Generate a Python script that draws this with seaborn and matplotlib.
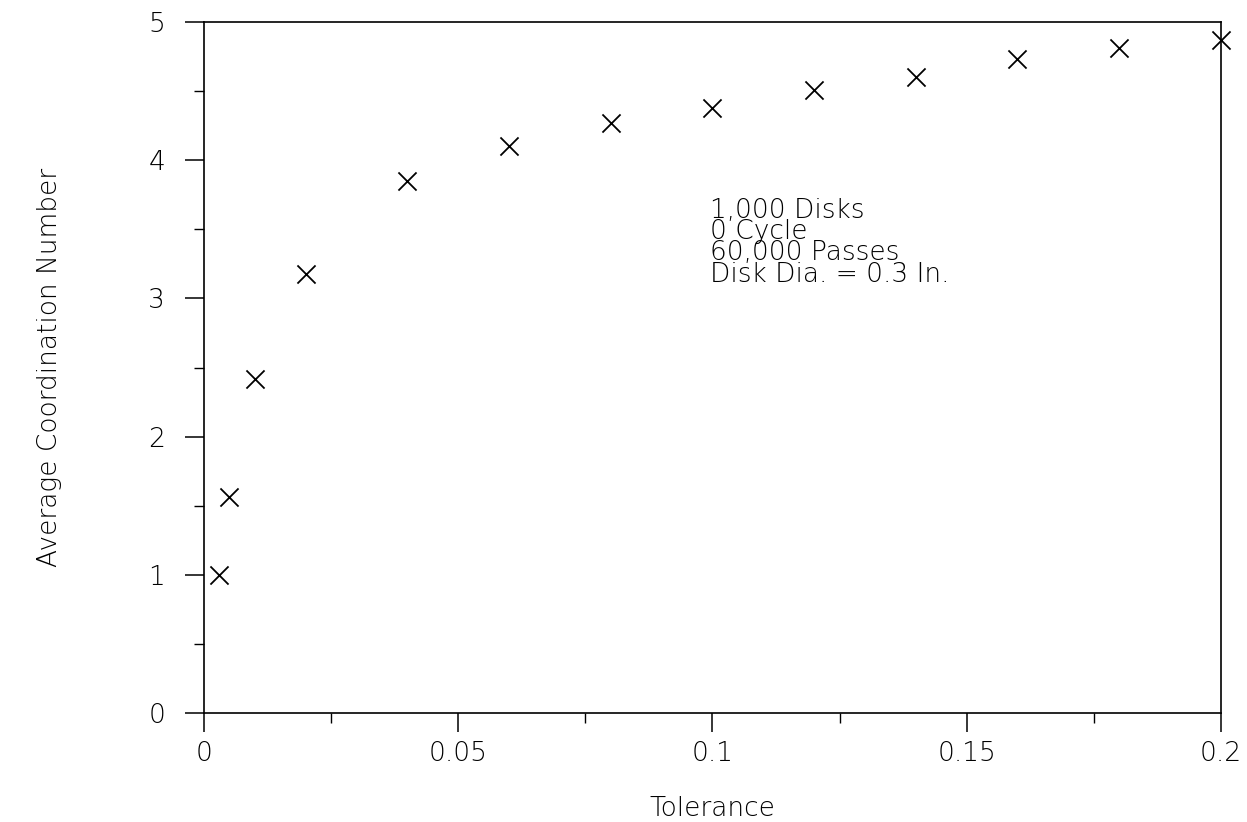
import matplotlib
matplotlib.use("Agg")
import matplotlib.pyplot as plt
from matplotlib.ticker import MultipleLocator
import seaborn as sns
import pandas as pd

# Tolerance vs. average coordination number
tolerance = [0.003, 0.005, 0.01, 0.02, 0.04, 0.06, 0.08, 0.10, 0.12, 0.14, 0.16, 0.18, 0.20]
coord_number = [1.00, 1.56, 2.42, 3.18, 3.85, 4.10, 4.27, 4.38, 4.51, 4.60, 4.73, 4.81, 4.87]

x_ticks = [0, 0.05, 0.1, 0.15, 0.2]
x_tick_labels = ["0", "0.05", "0.1", "0.15", "0.2"]
y_ticks = [0, 1, 2, 3, 4, 5]

note_lines = ["1,000 Disks", "0 Cycle", "60,000 Passes", "Disk Dia. = 0.3 In."]

df = pd.DataFrame({"Tolerance": tolerance, "Coord": coord_number})

sns.set_theme(style="ticks")
plt.rcParams["font.family"] = ["DejaVu Sans"]
plt.rcParams["font.weight"] = "light"
plt.rcParams["axes.labelweight"] = "light"

fig = plt.figure(figsize=(12.47, 8.22), dpi=100)
ax = fig.add_axes([0.1636, 0.1326, 0.8154, 0.8406])

sns.scatterplot(data=df, x="Tolerance", y="Coord", marker="x", s=170,
                color="black", linewidth=1.3, ax=ax, clip_on=False, zorder=3)

ax.set_xlim(0, 0.2)
ax.set_ylim(0, 5)
ax.set_xticks(x_ticks)
ax.set_xticklabels(x_tick_labels)
ax.set_yticks(y_ticks)
ax.xaxis.set_minor_locator(MultipleLocator(0.025))
ax.yaxis.set_minor_locator(MultipleLocator(0.5))

for s in ax.spines.values():
    s.set_visible(True)
    s.set_color("black")
    s.set_linewidth(1.2)

ax.tick_params(axis="both", which="major", direction="out", length=14, width=1.1,
               color="black", labelsize=19, labelcolor="black")
ax.tick_params(axis="x", which="major", pad=6)
ax.tick_params(axis="y", which="major", pad=14)
ax.tick_params(axis="both", which="minor", direction="out", length=7, width=1.0,
               color="black")

ax.set_xlabel("Tolerance", fontsize=19, fontweight="light", labelpad=22, color="black")
ax.set_ylabel("Average Coordination Number", fontsize=19, fontweight="light",
              labelpad=62, color="black")

ax.text(0.0995, 3.73, "\n".join(note_lines), fontsize=19, va="top", ha="left",
        linespacing=0.82, color="black")

fig.savefig("out.png", dpi=100, facecolor="white")
